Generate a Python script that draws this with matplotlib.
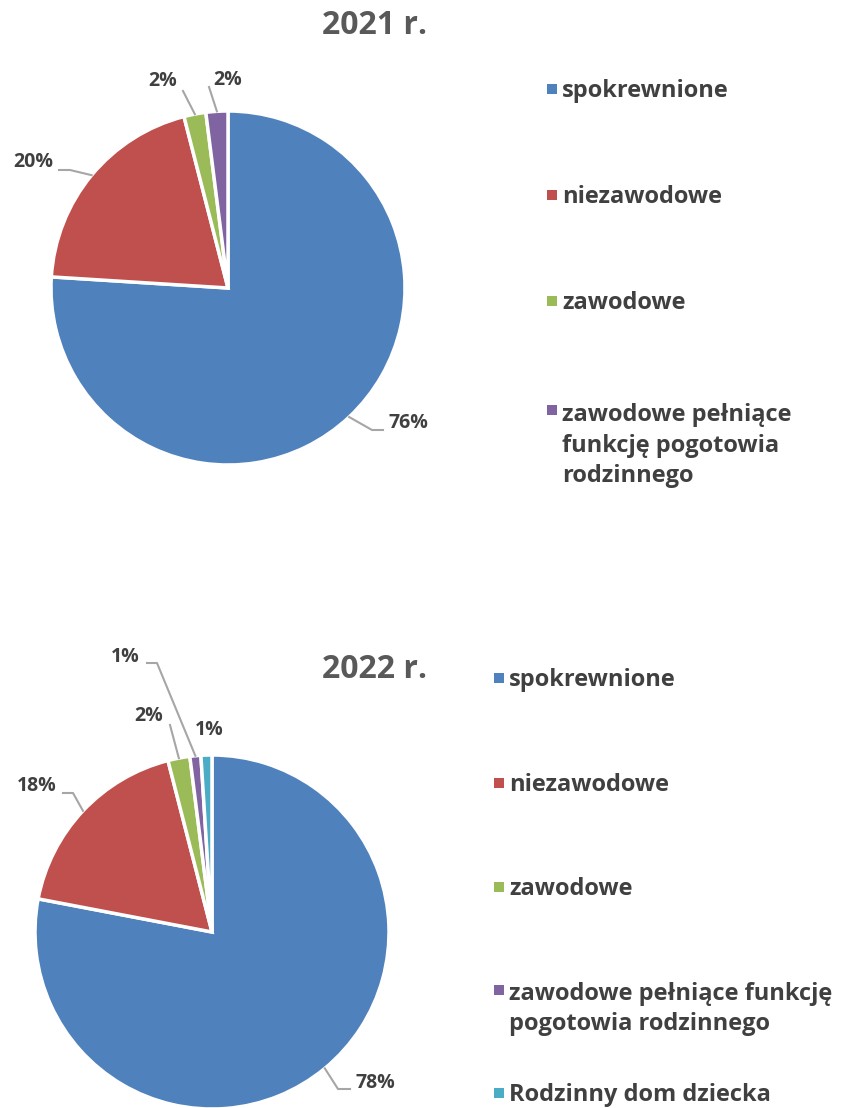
import numpy as np
import matplotlib
matplotlib.use("Agg")
import matplotlib.pyplot as plt
from matplotlib.patches import Rectangle
from matplotlib.lines import Line2D

plt.rcParams['font.family'] = ['Open Sans', 'DejaVu Sans']
plt.rcParams['font.weight'] = 'bold'

W, H = 842, 1108

# data
labels_2021 = ['spokrewnione', 'niezawodowe', 'zawodowe',
               'zawodowe pełniące\nfunkcję pogotowia\nrodzinnego']
values_2021 = [76, 20, 2, 2]
labels_2022 = ['spokrewnione', 'niezawodowe', 'zawodowe',
               'zawodowe pełniące funkcję\npogotowia rodzinnego',
               'Rodzinny dom dziecka']
values_2022 = [78, 18, 2, 1, 1]
colors = ['#4F81BD', '#C0504D', '#9BBB59', '#8064A2', '#4BACC6']

TXT = '#404040'
LINE = '#A6A6A6'
LEG_PT = 17
LEG_LS = 1.36

fig = plt.figure(figsize=(W / 100, H / 100), dpi=100)


def px(x, y):
    # pixel (from top-left) -> figure fraction
    return x / W, 1 - y / H


def draw_pie(values, legend_labels, title, cx, cy, R, title_xy,
             label_layout, leg_x, leg_ys):
    ax = fig.add_axes([(cx - R) / W, 1 - (cy + R) / H, 2 * R / W, 2 * R / H])
    wedges, _ = ax.pie(values, colors=colors[:len(values)], startangle=90,
                       counterclock=False, radius=1,
                       wedgeprops=dict(edgecolor='white', linewidth=2.5))
    ax.set_xlim(-1, 1)
    ax.set_ylim(-1, 1)
    ax.axis('off')

    fig.text(*px(*title_xy), title, ha='center', va='center',
             fontsize=23, color='#595959', fontweight='bold')

    # data labels with leader lines
    for w, v, (txy, path) in zip(wedges, values, label_layout):
        mid = np.deg2rad((w.theta1 + w.theta2) / 2)
        ex, ey = cx + R * np.cos(mid), cy - R * np.sin(mid)
        fig.text(*px(*txy), f'{v}%', ha='center', va='center',
                 fontsize=14, color=TXT, fontweight='bold')
        if path:
            xs = [ex] + [p[0] for p in path]
            ys = [ey] + [p[1] for p in path]
            fx = [x / W for x in xs]
            fy = [1 - y / H for y in ys]
            fig.add_artist(Line2D(fx, fy, color=LINE, lw=1.5,
                                  transform=fig.transFigure))

    # legend
    line_px = LEG_PT * 100 / 72 * LEG_LS
    for lab, c, ly in zip(legend_labels, colors, leg_ys):
        fig.add_artist(Rectangle(px(leg_x, ly + 5), 10 / W, 10 / H,
                                 facecolor=c, edgecolor='none',
                                 transform=fig.transFigure))
        nl = lab.count('\n')
        fig.text(*px(leg_x + 15, ly + 8 + nl * line_px), lab,
                 ha='left', va='baseline', fontsize=LEG_PT, color=TXT,
                 fontweight='bold', linespacing=LEG_LS)


draw_pie(values_2021, labels_2021, '2021 r.', 228, 288, 177, (375, 25),
         [((408, 423), [(372, 430), (383, 430)]),
          ((33, 162), [(70, 170), (59, 170)]),
          ((163, 81), [(183, 91)]),
          ((228, 80), [(209, 87)])],
         547, [89, 195, 301, 410])

draw_pie(values_2022, labels_2022, '2022 r.', 212, 932, 177, (375, 670),
         [((375, 1083), [(338, 1089), (350, 1089)]),
          ((37, 786), [(73, 793), (63, 793)]),
          ((149, 716), [(170, 725)]),
          ((125, 657), [(157, 663), (147, 663)]),
          ((209, 730), None)],
         494, [678, 783, 887, 990, 1093])

fig.savefig('out.png', dpi=100, facecolor='white')
